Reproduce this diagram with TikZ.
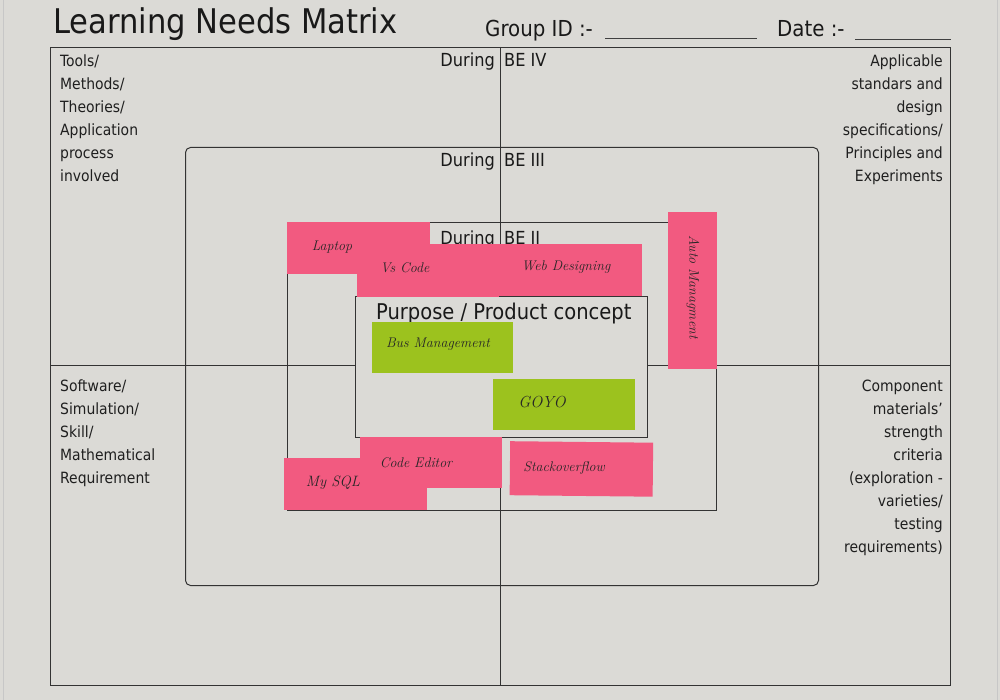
\documentclass[tikz,border=0pt]{standalone}
\usepackage{fontspec}
\setsansfont{DejaVu Sans Condensed}
\begin{document}
\begin{tikzpicture}[x=1pt,y=-1pt,
  rule/.style={draw=black!80, line width=1pt},
  printed/.style={font=\sffamily\fontsize{15.5}{23}\selectfont, text=black!88, inner sep=0pt},
  heading/.style={font=\sffamily\fontsize{18}{20}\selectfont, text=black!90, inner sep=0pt},
  sticky/.style={fill=pinknote, inner sep=0pt, anchor=north west},
  greennote/.style={fill=limenote, inner sep=0pt, anchor=north west},
  hand/.style={font=\itshape\fontsize{14}{16}\selectfont, text=black!85, inner sep=0pt},
]
\definecolor{paper}{HTML}{DBDAD6}
\definecolor{pinknote}{HTML}{F25A80}
\definecolor{limenote}{HTML}{9CC21E}

% sheet
\fill[paper] (0,0) rectangle (1000,700);
\useasboundingbox (0,0) rectangle (1000,700);
\draw[black!22, line width=0.8pt] (3,0) -- (3,700);
\draw[black!22, line width=0.8pt] (997,0) -- (997,700);

% header
\node[anchor=base west, font=\sffamily\fontsize{34}{36}\selectfont, inner sep=0pt, text=black!90] (title) at (53,34) {Learning Needs Matrix};
\node[anchor=base west, font=\sffamily\fontsize{22}{24}\selectfont, inner sep=0pt, text=black!90] (gid) at (485,37) {Group ID :-};
\coordinate (gidA) at (605,38);
\coordinate (gidB) at (757,38);
\draw[black!75, line width=0.9pt] (gidA) -- (gidB);
\node[anchor=base west, font=\sffamily\fontsize{22}{24}\selectfont, inner sep=0pt, text=black!90] (date) at (777,37) {Date :-};
\coordinate (dateA) at (855,39);
\coordinate (dateB) at (951,39);
\draw[black!75, line width=0.9pt] (dateA) -- (dateB);

% quadrant grid
\node[rule, minimum width=900pt, minimum height=638pt, anchor=north west, inner sep=0pt] (outer) at (50,47) {};
\coordinate (vtop) at (500,47);
\coordinate (vbot) at (500,685);
\coordinate (hl) at (50,365);
\coordinate (hr) at (950,365);
\draw[rule] (vtop) -- (vbot);
\draw[rule] (hl) -- (hr);

% nested phases
\node[rule, rounded corners=5pt, minimum width=633pt, minimum height=438pt, anchor=north west, inner sep=0pt] (be3) at (185,147) {};
\node[rule, minimum width=429pt, minimum height=288pt, anchor=north west, inner sep=0pt] (be2) at (287,222) {};

% phase labels
\node[heading, anchor=base east] (d4) at (495,67) {During};
\node[heading, anchor=base west] (b4) at (504,67) {BE IV};
\node[heading, anchor=base east] (d3) at (495,167) {During};
\node[heading, anchor=base west] (b3) at (504,167) {BE III};
\node[heading, anchor=base east] (d2) at (495,245) {During};
\node[heading, anchor=base west] (b2) at (504,245) {BE II};

% corner descriptions
\foreach \t [count=\i] in {{Tools/}, {Methods/}, {Theories/}, {Application}, {process}, {involved}}
  \node[printed, anchor=base west] (tl\i) at (60, 44+23*\i) {\t};
\foreach \t [count=\i] in {{Applicable}, {standars and}, {design}, {specifications/}, {Principles and}, {Experiments}}
  \node[printed, anchor=base east] (tr\i) at (943, 44+23*\i) {\t};
\foreach \t [count=\i] in {{Software/}, {Simulation/}, {Skill/}, {Mathematical}, {Requirement}}
  \node[printed, anchor=base west] (bl\i) at (60, 368+23*\i) {\t};
\foreach \t [count=\i] in {{Component}, {materials'}, {strength}, {criteria}, {(exploration -}, {varieties/}, {testing}, {requirements)}}
  \node[printed, anchor=base east] (br\i) at (943, 368+23*\i) {\t};

% core box
\node[rule, fill=paper, minimum width=292pt, minimum height=141pt, anchor=north west, inner sep=0pt] (core) at (355,296) {};
\node[anchor=base west, font=\sffamily\fontsize{21.7}{24}\selectfont, inner sep=0pt, text=black!90] (coretitle) at (376,319) {Purpose / Product concept};

% sticky notes
\node[sticky, minimum width=143pt, minimum height=52pt] (laptop) at (287,222) {};
\node[hand] (laptopT) at (332,247) {Laptop};
\node[sticky, minimum width=142pt, minimum height=53pt] (vscode) at (357,244) {};
\node[hand] (vscodeT) at (405,268) {Vs Code};
\node[sticky, minimum width=143pt, minimum height=52pt] (web) at (499,244) {};
\node[hand] (webT) at (566,267) {Web Designing};
\node[sticky, minimum width=49pt, minimum height=157pt] (auto) at (668,212) {};
\node[hand, rotate=-90] (autoT) at (693,287) {Auto Managment};

\node[greennote, minimum width=141pt, minimum height=51pt] (bus) at (372,322) {};
\node[hand] (busT) at (438,344) {Bus Management};
\node[greennote, minimum width=142pt, minimum height=51pt] (goyo) at (493,379) {};
\node[hand, font=\itshape\fontsize{16}{18}\selectfont] (goyoT) at (542,402) {GOYO};

\node[sticky, minimum width=143pt, minimum height=52pt] (mysql) at (284,458) {};
\node[hand, font=\itshape\fontsize{15}{17}\selectfont] (mysqlT) at (333,483) {My SQL};
\node[sticky, minimum width=142pt, minimum height=51pt] (codeed) at (360,437) {};
\node[hand] (codeedT) at (416,463) {Code Editor};
\node[sticky, minimum width=143pt, minimum height=54pt, rotate=-0.6] (stack) at (510,441) {};
\node[hand] (stackT) at (564,468) {Stackoverflow};
\end{tikzpicture}
\end{document}
